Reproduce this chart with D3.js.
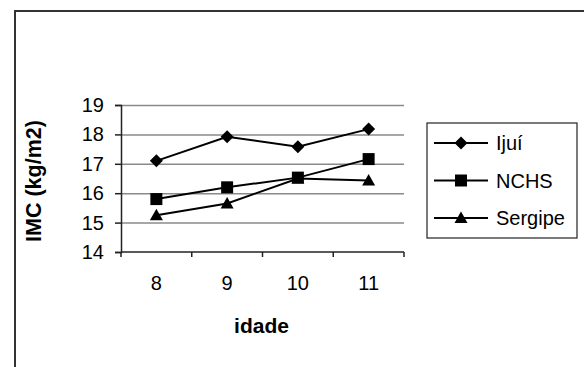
<!DOCTYPE html>
<html>
<head>
<meta charset="utf-8">
<script src="https://cdn.jsdelivr.net/npm/d3@7"></script>
<style>
  body { margin: 0; background: #fff; }
  svg { display: block; font-family: "Liberation Sans", Arial, sans-serif; }
</style>
</head>
<body>
<div id="chart"></div>
<script>
// data
var idades = ["8", "9", "10", "11"];
var ijui = [17.1, 17.92, 17.58, 18.18];
var nchs = [15.8, 16.2, 16.53, 17.16];
var sergipe = [15.25, 15.65, 16.5, 16.43];
var yTicks = [14, 15, 16, 17, 18, 19];

var series = [
  {name: "Ijuí", values: ijui, symbol: "diamond"},
  {name: "NCHS", values: nchs, symbol: "square"},
  {name: "Sergipe", values: sergipe, symbol: "triangle"}
];

var svgWidth = 584, svgHeight = 367;
var plot = {left: 121, right: 404, top: 105, bottom: 252};

var svg = d3.select("#chart").append("svg")
  .attr("width", svgWidth)
  .attr("height", svgHeight);

// outer chart frame (only left and top edges visible)
svg.append("rect")
  .attr("x", 15).attr("y", 11)
  .attr("width", 600).attr("height", 400)
  .attr("fill", "none")
  .attr("stroke", "#333")
  .attr("stroke-width", 2);

var x = d3.scaleBand().domain(idades).range([plot.left, plot.right]);
var y = d3.scaleLinear().domain([14, 19]).range([plot.bottom, plot.top]);

// Excel-like marker shapes
function symbolPath(type) {
  if (type === "diamond") return "M0,-6.5L6.5,0L0,6.5L-6.5,0Z";
  if (type === "square") return "M-6,-6H6V6H-6Z";
  return "M0,-6.5L6.5,5L-6.5,5Z";
}

// gridlines
svg.append("g")
  .attr("transform", `translate(${plot.left},0)`)
  .call(d3.axisLeft(y).tickValues(yTicks.slice(1)).tickSize(-(plot.right - plot.left)).tickFormat(""))
  .call(g => g.select(".domain").remove())
  .call(g => g.selectAll("line").attr("stroke", "#8a8a8a").attr("stroke-width", 1.5));

// y axis
svg.append("g")
  .attr("transform", `translate(${plot.left},0)`)
  .call(d3.axisLeft(y).tickValues(yTicks).tickFormat(d3.format("d")).tickSize(6).tickPadding(11))
  .call(g => g.select(".domain").attr("stroke", "#222").attr("stroke-width", 1.5))
  .call(g => g.selectAll("line").attr("stroke", "#222").attr("stroke-width", 1.5))
  .call(g => g.selectAll("text").attr("font-size", "20px").attr("fill", "#000").attr("font-family", null));

// x axis
var xAxis = svg.append("g")
  .attr("transform", `translate(0,${plot.bottom})`)
  .call(d3.axisBottom(x).tickSize(0).tickPadding(24))
  .call(g => g.select(".domain").remove())
  .call(g => g.selectAll("text").attr("font-size", "20px").attr("fill", "#000").attr("font-family", null));

xAxis.append("line")
  .attr("x1", plot.left).attr("x2", plot.right)
  .attr("stroke", "#222").attr("stroke-width", 1.5);

xAxis.selectAll(".sep")
  .data(idades.map(d => x(d)).concat([plot.right]))
  .enter().append("line")
  .attr("x1", d => d).attr("x2", d => d)
  .attr("y1", 0).attr("y2", 5)
  .attr("stroke", "#222").attr("stroke-width", 1.5);

// lines and markers
var line = d3.line()
  .x((d, i) => x(idades[i]) + x.bandwidth() / 2)
  .y(d => y(d));

series.forEach(function(s) {
  svg.append("path")
    .attr("d", line(s.values))
    .attr("fill", "none")
    .attr("stroke", "#000")
    .attr("stroke-width", 2);

  svg.selectAll(null)
    .data(s.values)
    .enter().append("path")
    .attr("d", symbolPath(s.symbol))
    .attr("transform", (d, i) => `translate(${x(idades[i]) + x.bandwidth() / 2},${y(d)})`)
    .attr("fill", "#000");
});

// axis titles
svg.append("text")
  .attr("x", (plot.left + plot.right) / 2 - 1)
  .attr("y", 333)
  .attr("text-anchor", "middle")
  .attr("font-size", "21px")
  .attr("font-weight", "bold")
  .text("idade");

svg.append("text")
  .attr("transform", "translate(41,181) rotate(-90)")
  .attr("text-anchor", "middle")
  .attr("font-size", "21.5px")
  .attr("font-weight", "bold")
  .text("IMC (kg/m2)");

// legend
var legend = svg.append("g");
legend.append("rect")
  .attr("x", 427).attr("y", 123)
  .attr("width", 150).attr("height", 115)
  .attr("fill", "#fff")
  .attr("stroke", "#222")
  .attr("stroke-width", 1.2);

var legendY = [143, 180.5, 218];
series.forEach(function(s, i) {
  var g = legend.append("g").attr("transform", `translate(0,${legendY[i]})`);
  g.append("line")
    .attr("x1", 434).attr("x2", 488)
    .attr("stroke", "#000").attr("stroke-width", 2);
  g.append("path")
    .attr("d", symbolPath(s.symbol))
    .attr("transform", "translate(461,0)")
    .attr("fill", "#000");
  g.append("text")
    .attr("x", 496)
    .attr("dy", "0.35em")
    .attr("font-size", "20px")
    .text(s.name);
});
</script>
</body>
</html>
